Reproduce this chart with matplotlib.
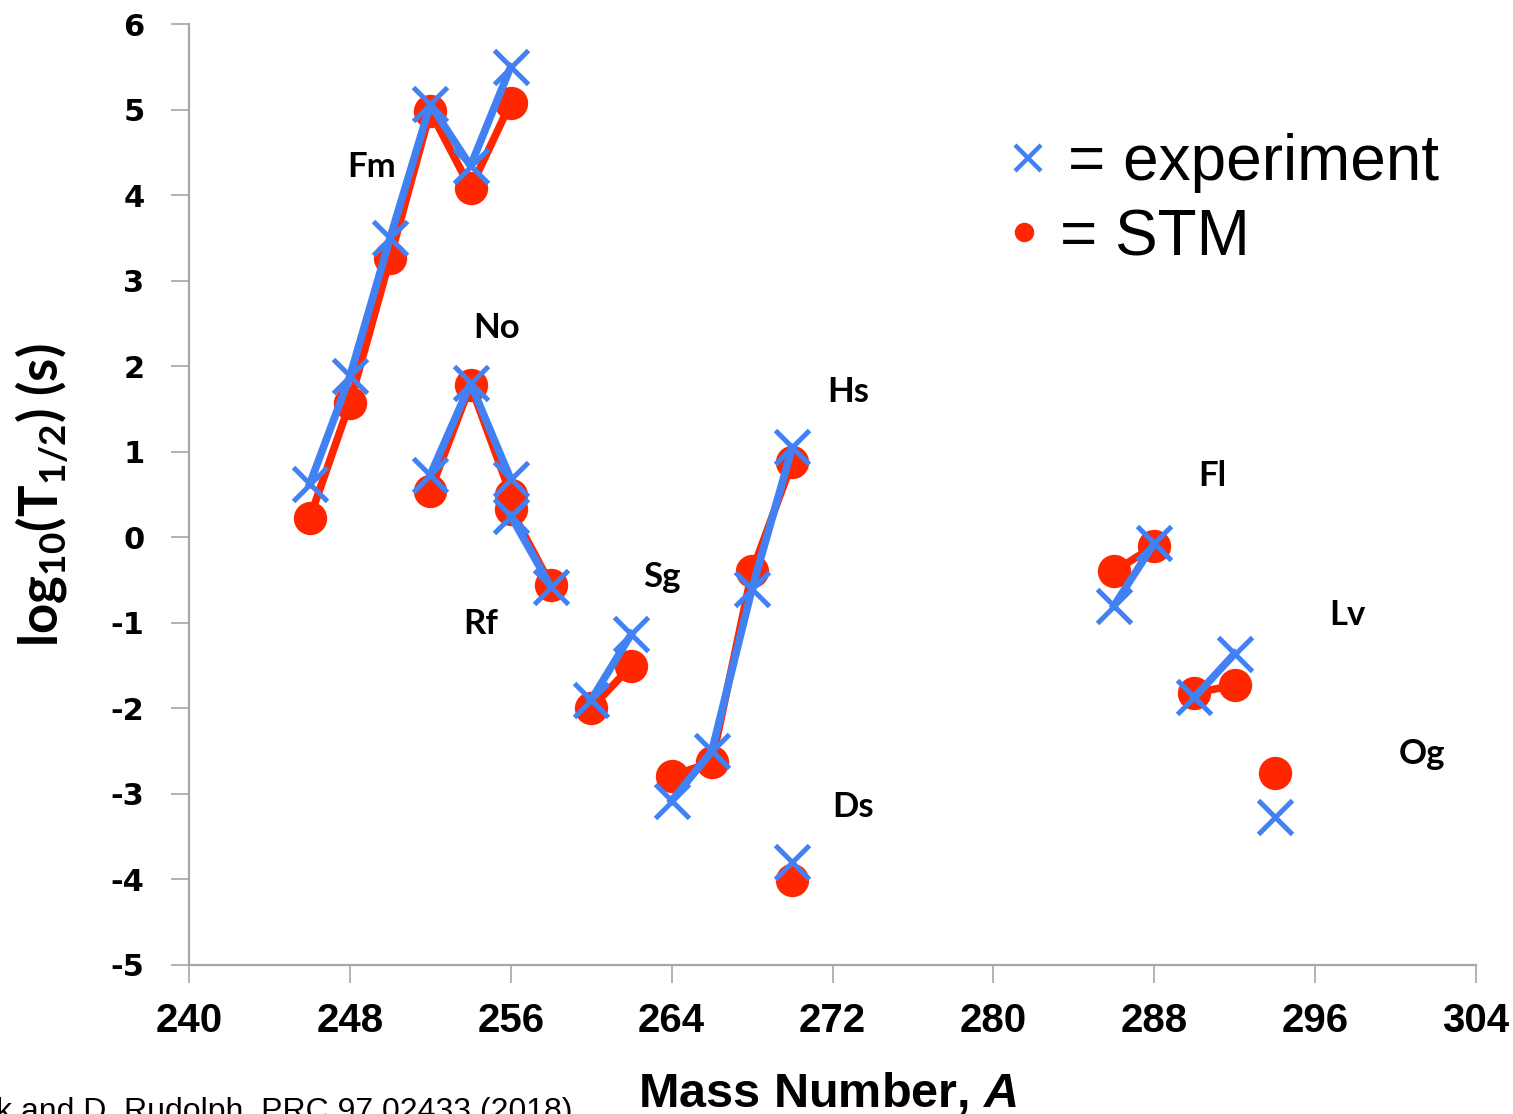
import matplotlib
matplotlib.use("Agg")
import matplotlib.pyplot as plt
from matplotlib.lines import Line2D

plt.rcParams['mathtext.default'] = 'regular'
plt.rcParams['mathtext.fontset'] = 'custom'
plt.rcParams['mathtext.it'] = 'Liberation Sans:italic:bold'

# log10 of half-lives (s): STM model vs experiment, per element chain
elements = ["Fm", "No", "Rf", "Sg", "Hs", "Ds", "Fl", "Lv", "Og"]
mass_numbers = {
    "Fm": [246, 248, 250, 252, 254, 256],
    "No": [252, 254, 256],
    "Rf": [256, 258],
    "Sg": [260, 262],
    "Hs": [264, 266, 268, 270],
    "Ds": [270],
    "Fl": [286, 288],
    "Lv": [290, 292],
    "Og": [294],
}
stm_values = {
    "Fm": [0.22, 1.57, 3.26, 4.98, 4.08, 5.08],
    "No": [0.54, 1.78, 0.50],
    "Rf": [0.33, -0.56],
    "Sg": [-2.00, -1.50],
    "Hs": [-2.79, -2.63, -0.40, 0.88],
    "Ds": [-4.01],
    "Fl": [-0.40, -0.10],
    "Lv": [-1.82, -1.73],
    "Og": [-2.75],
}
exp_values = {
    "Fm": [0.62, 1.88, 3.50, 5.06, 4.34, 5.50],
    "No": [0.73, 1.80, 0.68],
    "Rf": [0.25, -0.58],
    "Sg": [-1.90, -1.13],
    "Hs": [-3.08, -2.50, -0.60, 1.05],
    "Ds": [-3.80],
    "Fl": [-0.80, -0.07],
    "Lv": [-1.87, -1.36],
    "Og": [-3.27],
}
label_positions = {
    "Fm": (249.1, 4.33), "No": (255.3, 2.45), "Rf": (254.5, -1.01),
    "Sg": (263.5, -0.46), "Hs": (272.8, 1.70), "Ds": (273.0, -3.15),
    "Fl": (290.9, 0.72), "Lv": (297.6, -0.91), "Og": (301.3, -2.53),
}
x_ticks = [240, 248, 256, 264, 272, 280, 288, 296, 304]
y_ticks = [6, 5, 4, 3, 2, 1, 0, -1, -2, -3, -4, -5]

RED = "#ff2600"
BLUE = "#4281f4"
AXIS_GREY = "#a6a6a6"

W, H = 1513, 1114
fig = plt.figure(figsize=(W / 100, H / 100), dpi=100)
ax = fig.add_axes([189 / W, 1 - 965 / H, (1476 - 189) / W, (965 - 24) / H])

for el in elements:
    ax.plot(mass_numbers[el], stm_values[el], color=RED, lw=5.5,
            marker="o", markersize=24, markeredgewidth=0, zorder=2,
            clip_on=False)
for el in elements:
    ax.plot(mass_numbers[el], exp_values[el], color=BLUE, lw=5.5,
            marker="x", markersize=24, markeredgewidth=3.6, zorder=3,
            clip_on=False)

for el in elements:
    x, y = label_positions[el]
    ax.text(x, y, el, ha="center", va="center", fontsize=25,
            fontweight="bold", family="Lato", color="black", zorder=4)

ax.set_xlim(240, 304)
ax.set_ylim(-5, 6)
ax.set_xticks(x_ticks)
ax.set_yticks(y_ticks)
ax.set_xticklabels([str(t) for t in x_ticks], fontsize=29, fontweight="bold",
                   family=["Liberation Sans Narrow", "Liberation Sans"])
ax.set_yticklabels([str(t) for t in y_ticks], fontsize=22, fontweight="bold",
                   family="DejaVu Sans")

for side in ("top", "right"):
    ax.spines[side].set_visible(False)
for side in ("left", "bottom"):
    ax.spines[side].set_color(AXIS_GREY)
    ax.spines[side].set_linewidth(1.6)
ax.tick_params(axis="both", direction="out", length=13, width=1.2,
               color=AXIS_GREY, labelcolor="black")
ax.tick_params(axis="x", pad=14)
ax.tick_params(axis="y", pad=19)

fig.text(42 / W, 1 - 495 / H, r"log$_{10}$(T$_{1/2}$) (s)", rotation=90,
         ha="center", va="center", fontsize=38, fontweight="bold",
         family="Lato")
fig.text(828 / W, 1 - 1107 / H, r"Mass Number, $\mathit{A}$", ha="center",
         va="baseline", fontsize=35, fontweight="bold", family="Liberation Sans")

# legend drawn as markers + text
fig.add_artist(Line2D([1028 / W], [1 - 158 / H], transform=fig.transFigure,
                      marker="x", color=BLUE, markersize=19, markeredgewidth=3.2,
                      ls="none"))
fig.add_artist(Line2D([1024 / W], [1 - 232 / H], transform=fig.transFigure,
                      marker="o", color=RED, markersize=14, markeredgewidth=0,
                      ls="none"))
fig.text(1068 / W, 1 - 180 / H, "= experiment", fontsize=46,
         family="Liberation Sans", va="baseline", ha="left")
fig.text(1060 / W, 1 - 255 / H, "= STM", fontsize=46,
         family="Liberation Sans", va="baseline", ha="left")

fig.text(-4 / W, 1 - 1120 / H, "k and D. Rudolph, PRC 97 02433 (2018)",
         fontsize=23, family="Liberation Sans", va="baseline", ha="left")

fig.savefig("out.png", dpi=100)
